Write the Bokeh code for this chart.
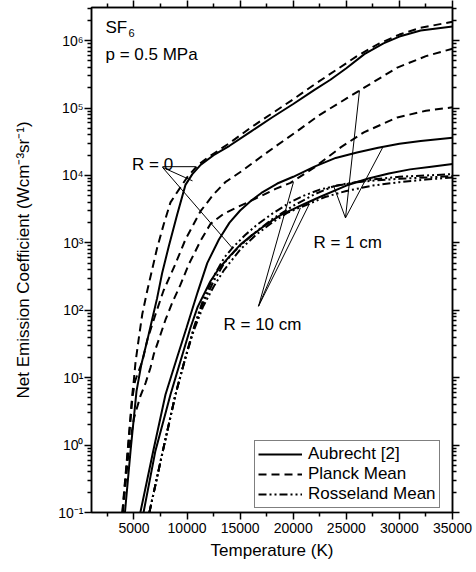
import numpy as np
from bokeh.plotting import figure
from bokeh.models import (FixedTicker, LogAxis, LinearAxis, CustomJSTickFormatter,
                          Legend, LegendItem, Range1d)
from bokeh.core.properties import value
from bokeh.embed import file_html
from bokeh.resources import INLINE

# ---- data: temperature (K) and log10 of net emission coefficient ----
planck_r0_T = [3900, 4450, 4830, 4980, 5140, 5460, 5780, 6250, 6720, 7190, 7810, 8440, 9400,
               10000, 11000, 12000, 14000, 16000, 18000, 20000, 22000, 24000, 26000, 28000,
               30000, 32000, 35000]
planck_r0_log = [-1.0, 0.0, 0.73, 0.95, 1.22, 1.59, 1.94, 2.29, 2.61, 2.93, 3.28, 3.6, 3.83,
                 3.97, 4.15, 4.27, 4.48, 4.71, 4.92, 5.13, 5.35, 5.56, 5.77, 5.95,
                 6.09, 6.19, 6.28]

aubrecht_r0_T = [4150, 4700, 5240, 5700, 6250, 6720, 7180, 7650, 8280, 9070, 9850, 10500, 11300,
                 12500, 14000, 16000, 18000, 20000, 22000, 23500, 25000, 26700, 28500, 30000,
                 32000, 35000]
aubrecht_r0_log = [-1.0, -0.05, 0.8, 1.2, 1.55, 1.87, 2.18, 2.55, 2.95, 3.42, 3.86, 4.02, 4.16,
                   4.3, 4.44, 4.65, 4.86, 5.06, 5.27, 5.42, 5.59, 5.8, 5.96, 6.06,
                   6.15, 6.21]

planck_r1_T = [3920, 4470, 4850, 5100, 5450, 5800, 6270, 7030, 7780, 8910, 9850, 11270, 12500,
               13600, 15200, 17000, 18500, 20400, 22500, 25100, 27500, 29800, 32500, 35000]
planck_r1_log = [-1.0, 0.0, 0.7, 0.95, 1.1, 1.25, 1.57, 1.94, 2.29, 2.69, 3.05, 3.47, 3.72,
                 3.9, 4.07, 4.28, 4.45, 4.66, 4.9, 5.15, 5.38, 5.6, 5.77, 5.88]

planck_r10_T = [3950, 4500, 5000, 5615, 6090, 6560, 6870, 7500, 7970, 8600, 9380, 10160, 11270,
                12200, 13430, 14750, 16630, 18330, 19740, 22000, 24500, 26650, 29800, 32500, 35000]
planck_r10_log = [-1.0, -0.1, 0.4, 0.73, 0.92, 1.15, 1.35, 1.64, 1.86, 2.11, 2.38, 2.68, 3.03,
                  3.28, 3.43, 3.53, 3.67, 3.8, 3.89, 4.12, 4.42, 4.64, 4.86, 4.96, 5.01]

aubrecht_r1_T = [5600, 6800, 7970, 9000, 9950, 11000, 11900, 13000, 14000, 15000, 16000, 17000,
                 18500, 20000, 22000, 24000, 26000, 28000, 30000, 32000, 35000]
aubrecht_r1_log = [-1.0, -0.1, 0.75, 1.27, 1.74, 2.27, 2.7, 3.05, 3.3, 3.48, 3.62, 3.74,
                   3.88, 3.98, 4.13, 4.26, 4.34, 4.41, 4.47, 4.51, 4.56]

aubrecht_r10_T = [5900, 7000, 8440, 10320, 11000, 12200, 13000, 14000, 15000, 16000, 17000, 18000,
                  19000, 20000, 20680, 22500, 25000, 27000, 29000, 31000, 33000, 35000]
aubrecht_r10_log = [-1.0, -0.1, 0.75, 1.74, 2.05, 2.43, 2.62, 2.8, 2.97, 3.1, 3.22, 3.33,
                    3.43, 3.5, 3.55, 3.68, 3.85, 3.95, 4.03, 4.09, 4.13, 4.17]

rosseland_r0_T = [6450, 7700, 8910, 9800, 10630, 11500, 12500, 13500, 14300, 15500, 16600,
                  18000, 19700, 21000, 22500, 25000, 27500, 30000, 32500, 35000]
rosseland_r0_log = [-1.0, -0.1, 0.75, 1.27, 1.74, 2.15, 2.5, 2.78, 2.93, 3.12, 3.27,
                    3.43, 3.6, 3.7, 3.79, 3.88, 3.94, 3.98, 4.0, 4.02]

rosseland_r1_T = [6450, 7700, 8910, 9800, 10630, 11500, 12500, 13500, 14500, 16000, 18000,
                  20000, 22000, 23800, 26000, 28000, 30000, 32500, 35000]
rosseland_r1_log = [-1.0, -0.1, 0.75, 1.27, 1.72, 2.1, 2.43, 2.7, 2.88, 3.1, 3.35,
                    3.55, 3.72, 3.84, 3.9, 3.93, 3.95, 3.97, 3.99]

rosseland_r10_T = [6450, 7700, 8910, 9800, 10630, 11500, 12500, 13500, 15000, 16500, 18000,
                   19500, 21500, 23000, 25000, 27500, 30000, 32500, 35000]
rosseland_r10_log = [-1.0, -0.1, 0.75, 1.27, 1.7, 2.05, 2.35, 2.6, 2.9, 3.12, 3.3,
                     3.45, 3.58, 3.68, 3.77, 3.85, 3.9, 3.94, 3.97]

# axes
x_ticks = [5000, 10000, 15000, 20000, 25000, 30000, 35000]
x_minor_ticks = [2500, 7500, 12500, 17500, 22500, 27500, 32500]
y_ticks = [1e-1, 1e0, 1e1, 1e2, 1e3, 1e4, 1e5, 1e6]
y_tick_labels = ["10\u207b\u00b9", "10\u2070", "10\u00b9", "10\u00b2", "10\u00b3",
                 "10\u2074", "10\u2075", "10\u2076"]

# annotations: label texts, label anchors and leader lines (T, log10 value)
labels_text = ["R = 0", "R = 1 cm", "R = 10 cm"]
labels_T = [4814, 21900, 13430]
labels_log = [4.165, 3.003, 1.79]

leader_T0 = [7687, 7687, 7687, 24920, 24920, 24920, 16730, 16730, 16730]
leader_log0 = [4.13, 4.12, 4.12, 3.37, 3.37, 3.37, 2.06, 2.06, 2.06]
leader_T1 = [10795, 10512, 14280, 26240, 28410, 23790, 20020, 20680, 21530]
leader_log1 = [4.13, 3.92, 2.92, 5.26, 4.41, 3.85, 3.90, 3.52, 3.58]

FONT = "Liberation Sans"

p = figure(width=476, height=572, y_axis_type="log",
           x_range=Range1d(1000, 35000), y_range=Range1d(0.1, 3.1e6),
           output_backend="svg", toolbar_location=None,
           min_border_left=91, min_border_right=24, min_border_top=7, min_border_bottom=60)
p.grid.visible = False
p.outline_line_color = "black"
p.outline_line_width = 1.5
p.background_fill_color = "white"

y_minor = [k * d for d in y_ticks for k in range(2, 10) if k * d < 3.1e6]

def style_axis(ax):
    ax.axis_line_width = 1.5
    ax.major_tick_line_width = 1.5
    ax.minor_tick_line_width = 1.5
    ax.major_tick_out = 7
    ax.major_tick_in = 0
    ax.minor_tick_out = 4
    ax.minor_tick_in = 0
    ax.major_label_text_font = FONT
    ax.major_label_text_font_size = "14px"
    ax.major_label_text_color = "black"
    ax.axis_label_text_font = FONT
    ax.axis_label_text_font_size = "17px"
    ax.axis_label_text_font_style = "normal"
    ax.axis_label_text_color = "black"

xt = FixedTicker(ticks=x_ticks, minor_ticks=x_minor_ticks)
yt = FixedTicker(ticks=y_ticks, minor_ticks=y_minor)

p.xaxis.ticker = xt
p.yaxis.ticker = yt
p.xaxis.axis_label = "Temperature (K)"
p.yaxis.axis_label = "Net Emission Coefficient (Wcm\u207b\u00b3sr\u207b\u00b9)"
p.yaxis.formatter = CustomJSTickFormatter(args=dict(tlabels=y_tick_labels, tvals=y_ticks), code="""
const i = tvals.findIndex(t => Math.abs(Math.log10(t) - Math.log10(tick)) < 1e-6);
return i >= 0 ? tlabels[i] : '';
""")
for ax in (p.xaxis[0], p.yaxis[0]):
    style_axis(ax)
p.xaxis.major_label_standoff = 3
p.yaxis.major_label_standoff = 1
p.yaxis.axis_label_standoff = 22
p.xaxis.axis_label_standoff = 5

top = LinearAxis(ticker=xt, formatter=CustomJSTickFormatter(code="return ''"))
right = LogAxis(ticker=yt, formatter=CustomJSTickFormatter(code="return ''"))
for ax in (top, right):
    style_axis(ax)
    ax.major_label_standoff = 0
    ax.major_label_text_font_size = "0px"
p.add_layout(top, "above")
p.add_layout(right, "right")

def pw(a):
    return np.power(10.0, np.array(a, dtype=float))

LW = 2
DASH = "8 5"
DDOT = "8 3 2 3 2 3"

r_a0 = p.line(aubrecht_r0_T, pw(aubrecht_r0_log), line_color="black", line_width=LW)
p.line(aubrecht_r1_T, pw(aubrecht_r1_log), line_color="black", line_width=LW)
p.line(aubrecht_r10_T, pw(aubrecht_r10_log), line_color="black", line_width=LW)
r_p0 = p.line(planck_r0_T, pw(planck_r0_log), line_color="black", line_width=LW, line_dash=DASH)
p.line(planck_r1_T, pw(planck_r1_log), line_color="black", line_width=LW, line_dash=DASH)
p.line(planck_r10_T, pw(planck_r10_log), line_color="black", line_width=LW, line_dash=DASH)
r_r0 = p.line(rosseland_r0_T, pw(rosseland_r0_log), line_color="black", line_width=LW, line_dash=DDOT)
p.line(rosseland_r1_T, pw(rosseland_r1_log), line_color="black", line_width=LW, line_dash=DDOT)
p.line(rosseland_r10_T, pw(rosseland_r10_log), line_color="black", line_width=LW, line_dash=DDOT)

p.segment(x0=leader_T0, y0=pw(leader_log0), x1=leader_T1, y1=pw(leader_log1),
          line_color="black", line_width=1)

p.text(x=labels_T, y=pw(labels_log), text=labels_text, text_font=value(FONT),
       text_font_size="17px", text_baseline="alphabetic", text_align="left", text_color="black")

# SF6 and pressure
p.text(x=[2318], y=pw([6.193]), text=["SF"], text_font=value(FONT), text_font_size="17px",
       text_baseline="alphabetic", text_align="left", text_color="black")
p.text(x=[4485], y=pw([6.119]), text=["6"], text_font=value(FONT), text_font_size="11px",
       text_baseline="alphabetic", text_align="left", text_color="black")
p.text(x=[2318], y=pw([5.80]), text=["p = 0.5 MPa"], text_font=value(FONT), text_font_size="17px",
       text_baseline="alphabetic", text_align="left", text_color="black")

legend = Legend(items=[LegendItem(label="Aubrecht [2]", renderers=[r_a0]),
                       LegendItem(label="Planck Mean", renderers=[r_p0]),
                       LegendItem(label="Rosseland Mean", renderers=[r_r0])],
                location=(163, 4))
legend.label_text_font = FONT
legend.label_text_font_size = "17px"
legend.label_text_color = "black"
legend.border_line_color = "black"
legend.border_line_width = 1
legend.background_fill_alpha = 1
legend.glyph_width = 44
legend.glyph_height = 20
legend.label_height = 20
legend.label_standoff = 6
legend.spacing = 0
legend.padding = 3
legend.margin = 0
p.add_layout(legend, "center")

open("out.html", "w").write(file_html(p, INLINE))
